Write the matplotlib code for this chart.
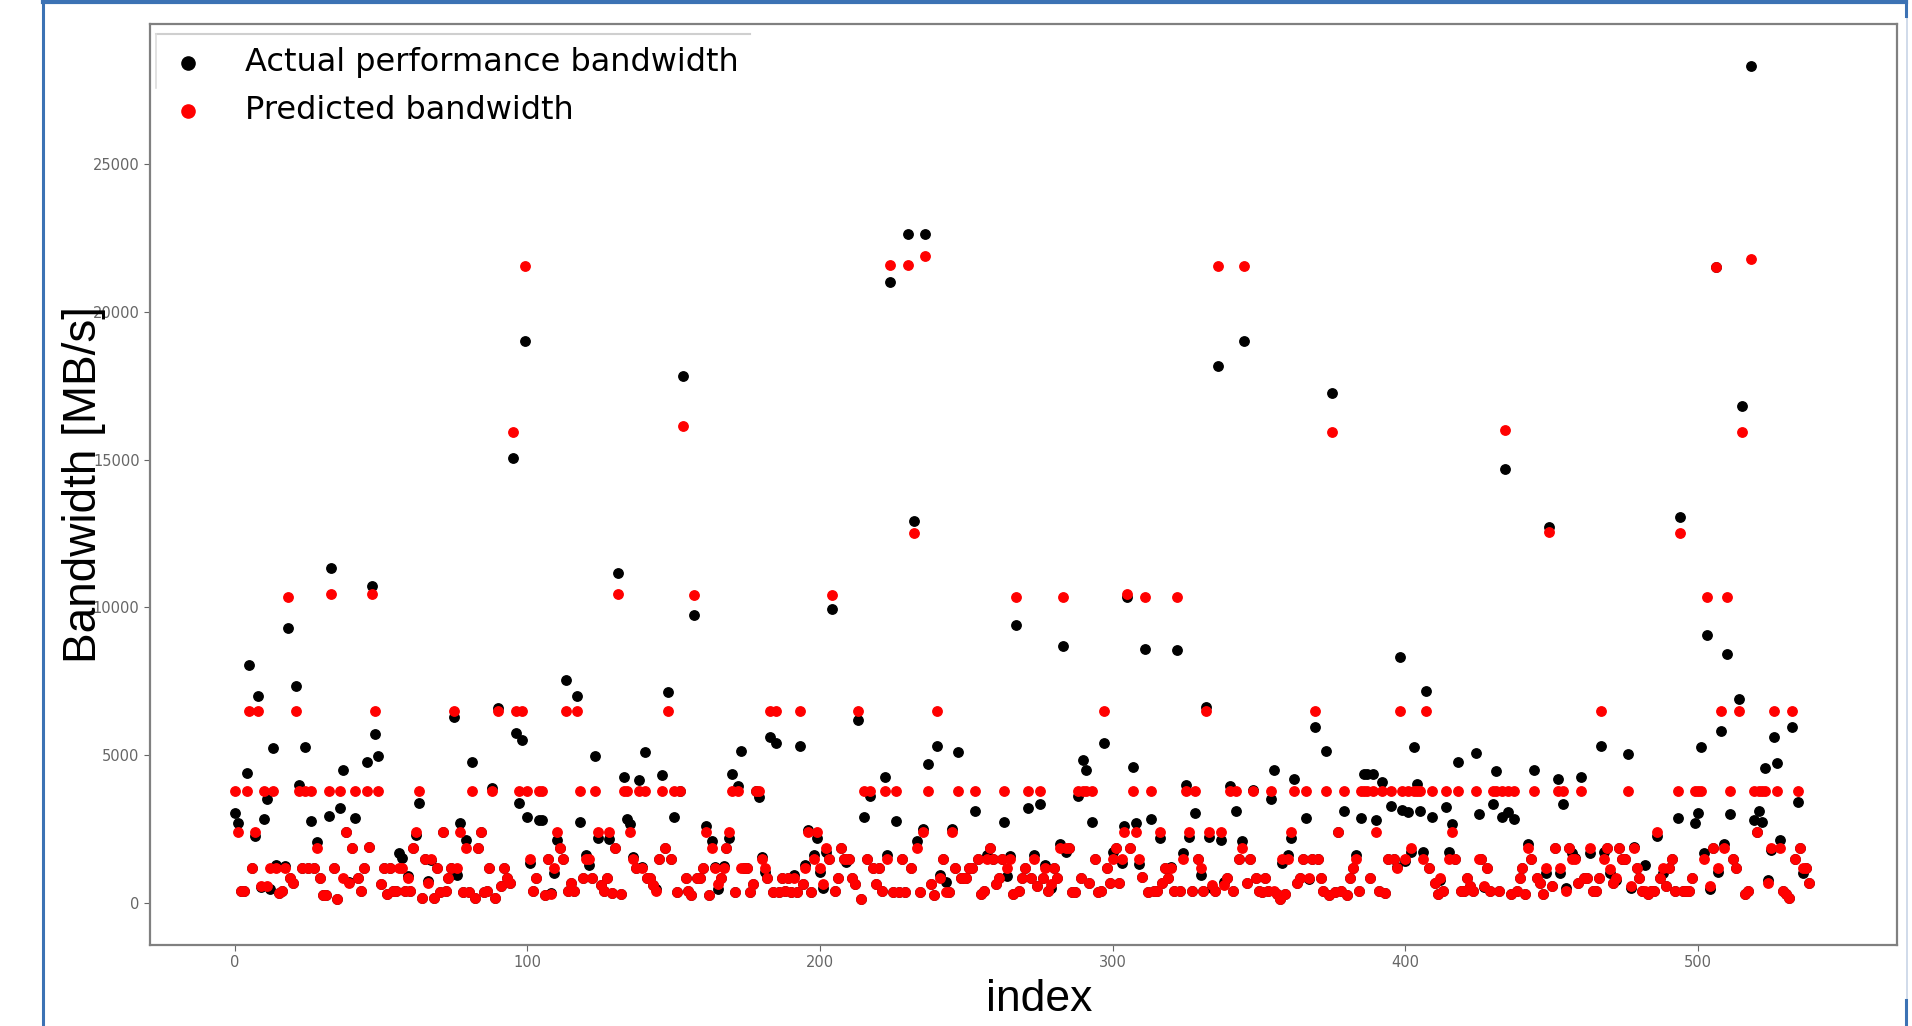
import numpy as np
import matplotlib
matplotlib.use("Agg")
import matplotlib.pyplot as plt
from matplotlib.lines import Line2D

# Datos (indice 0..538)
predicted = [
    3800, 2400, 420, 420, 3800, 6500, 1180, 2400, 6500, 590,        # 0
    3800, 590, 1200, 3800, 1180, 350, 400, 1180, 10340, 830,        # 10
    670, 6500, 3800, 1180, 3800, 1180, 3800, 1180, 1870, 860,       # 20
    270, 270, 3800, 10460, 1180, 120, 3800, 860, 2400, 670,         # 30
    1870, 3800, 860, 420, 1180, 3800, 1900, 10460, 6500, 3800,      # 40
    630, 1180, 300, 1180, 420, 420, 1180, 1180, 420, 830,           # 50
    420, 1870, 2400, 3800, 160, 1490, 670, 1480, 160, 1180,         # 60
    380, 2400, 420, 830, 1180, 6500, 1180, 2400, 380, 1870,         # 70
    380, 3800, 160, 1870, 2400, 380, 420, 1180, 3800, 160,          # 80
    6500, 590, 1180, 830, 670, 15950, 6500, 3800, 6500, 21560,      # 90
    3800, 1480, 420, 830, 3800, 3800, 270, 1480, 300, 1180,         # 100
    2400, 1870, 1480, 6500, 420, 670, 420, 6500, 3800, 830,         # 110
    1480, 1480, 830, 3800, 2400, 610, 420, 830, 2400, 330,          # 120
    1870, 10460, 300, 3800, 3800, 2400, 1480, 1180, 3800, 1180,     # 130
    3800, 830, 830, 610, 420, 1480, 3800, 1870, 6500, 1480,         # 140
    3800, 380, 3800, 16150, 860, 420, 270, 10420, 860, 860,         # 150
    1180, 2400, 270, 1870, 1180, 630, 860, 1180, 1870, 2400,        # 160
    3800, 380, 3800, 1180, 1180, 1180, 380, 630, 3800, 3800,        # 170
    1480, 1180, 860, 6500, 380, 6500, 380, 860, 420, 860,           # 180
    380, 860, 380, 6500, 630, 1180, 2400, 380, 1480, 2400,          # 190
    1180, 630, 1870, 1480, 10420, 420, 860, 1870, 1480, 1480,       # 200
    1480, 860, 630, 6500, 120, 3800, 1480, 3800, 1180, 630,         # 210
    1180, 420, 3800, 1480, 21600, 380, 3800, 380, 1480, 380,        # 220
    21600, 1180, 12520, 1870, 380, 2400, 21890, 3800, 630, 270,     # 230
    6500, 860, 1480, 380, 380, 2400, 1180, 3800, 860, 860,          # 240
    860, 1180, 1180, 3800, 1480, 300, 420, 1480, 1870, 1480,        # 250
    630, 860, 1480, 3800, 1180, 1480, 300, 10340, 420, 860,         # 260
    1180, 3800, 860, 1480, 590, 3800, 860, 1180, 420, 630,          # 270
    1180, 860, 1870, 10340, 1870, 1870, 380, 380, 3800, 860,        # 280
    3800, 3800, 670, 3800, 1480, 380, 420, 6500, 1180, 670,         # 290
    1480, 1870, 670, 1480, 2400, 10460, 1870, 3800, 2400, 1480,     # 300
    890, 10340, 380, 3800, 420, 420, 2400, 670, 1180, 860,          # 310
    1180, 420, 10340, 420, 1480, 3800, 2400, 420, 3800, 1480,       # 320
    1180, 420, 6500, 2400, 610, 420, 21560, 2400, 610, 860,         # 330
    3800, 420, 3800, 1480, 1870, 21560, 670, 1480, 3800, 860,       # 340
    420, 380, 860, 420, 3800, 420, 300, 120, 1480, 300,             # 350
    1480, 2400, 3800, 670, 860, 1480, 3800, 860, 1480, 6500,        # 360
    1480, 860, 420, 3800, 270, 15950, 380, 2400, 420, 3800,         # 370
    270, 860, 1180, 1480, 420, 3800, 3800, 3800, 860, 3800,         # 380
    2400, 420, 3800, 350, 1480, 3800, 1480, 1180, 6500, 3800,       # 390
    1480, 3800, 1870, 3800, 3800, 3800, 1480, 6500, 1180, 3800,     # 400
    670, 300, 860, 420, 3800, 1480, 2400, 1480, 3800, 420,          # 410
    420, 860, 590, 420, 3800, 1480, 1480, 590, 1180, 420,           # 420
    3800, 3800, 420, 3800, 15990, 3800, 300, 3800, 420, 860,        # 430
    1180, 300, 1870, 1480, 3800, 860, 670, 300, 1180, 12560,        # 440
    590, 1870, 3800, 1180, 3800, 420, 1870, 1480, 1480, 670,        # 450
    3800, 860, 830, 1870, 420, 420, 860, 6500, 1480, 1870,          # 460
    1140, 670, 860, 1870, 1480, 1480, 3800, 590, 1870, 1180,        # 470
    860, 420, 420, 300, 420, 420, 2400, 860, 1180, 590,             # 480
    1180, 1480, 420, 3800, 12520, 420, 420, 420, 860, 3800,         # 490
    3800, 3800, 1480, 10340, 590, 1870, 21510, 1180, 6500, 1870,    # 500
    10340, 3800, 1480, 1180, 6500, 15950, 300, 420, 21800, 3800,    # 510
    2400, 3800, 3800, 3800, 670, 1870, 6500, 3800, 1870, 420,       # 520
    300, 160, 6500, 1480, 3800, 1870, 1180, 1180, 670,              # 530
]

actual = [
    3060, 2700, 420, 420, 4390, 8070, 1180, 2270, 7000, 550,        # 0
    2830, 3510, 460, 5230, 1290, 350, 400, 1260, 9300, 830,         # 10
    670, 7340, 4010, 1180, 5290, 1180, 2770, 1180, 2080, 860,       # 20
    270, 270, 2950, 11330, 1180, 120, 3200, 4500, 2400, 720,        # 30
    1870, 2890, 860, 420, 1180, 4780, 1900, 10710, 5710, 4980,      # 40
    630, 1180, 300, 1180, 420, 420, 1700, 1510, 420, 910,           # 50
    420, 1870, 2300, 3370, 160, 1490, 740, 1450, 160, 1180,         # 60
    380, 2400, 420, 830, 1180, 6300, 950, 2700, 380, 2130,          # 70
    380, 4780, 160, 1870, 2400, 380, 420, 1180, 3900, 160,          # 80
    6590, 590, 1180, 830, 670, 15040, 5740, 3370, 5510, 19000,      # 90
    2900, 1340, 420, 830, 2810, 2810, 270, 1480, 330, 1030,         # 100
    2130, 1870, 1480, 7540, 420, 670, 420, 7000, 2750, 830,         # 110
    1620, 1290, 830, 4980, 2190, 610, 420, 830, 2150, 330,          # 120
    1870, 11160, 300, 4250, 2830, 2670, 1570, 1180, 4160, 1230,     # 130
    5100, 830, 830, 610, 460, 1480, 4330, 1870, 7150, 1480,         # 140
    2920, 380, 3800, 17840, 860, 420, 270, 9760, 860, 860,          # 150
    1180, 2620, 270, 2110, 1230, 460, 860, 1250, 1870, 2190,        # 160
    4350, 380, 3970, 5140, 1180, 1180, 380, 630, 3800, 3600,        # 170
    1550, 1060, 860, 5610, 380, 5420, 380, 860, 420, 860,           # 180
    380, 950, 380, 5310, 630, 1290, 2470, 380, 1620, 2190,          # 190
    1060, 500, 1740, 1480, 9960, 420, 860, 1870, 1480, 1400,        # 200
    1480, 860, 630, 6190, 120, 2920, 1480, 3620, 1180, 630,         # 210
    1180, 420, 4250, 1620, 21020, 380, 2770, 380, 1480, 380,        # 220
    22630, 1180, 12930, 2110, 380, 2500, 22630, 4700, 630, 270,     # 230
    5310, 950, 1480, 720, 380, 2500, 1180, 5100, 860, 860,          # 240
    860, 1180, 1180, 3110, 1480, 300, 420, 1620, 1870, 1480,        # 250
    630, 860, 1480, 2750, 910, 1590, 300, 9390, 420, 860,           # 260
    1180, 3230, 860, 1620, 590, 3340, 860, 1290, 420, 500,          # 270
    1180, 860, 2000, 8690, 1740, 1870, 380, 380, 3630, 860,         # 280
    4840, 4500, 670, 2750, 1480, 380, 420, 5420, 1180, 670,         # 290
    1710, 1870, 670, 1340, 2620, 10340, 1870, 4610, 2700, 1320,     # 300
    890, 8600, 380, 2830, 420, 420, 2190, 670, 1180, 860,           # 310
    1230, 420, 8560, 420, 1680, 4010, 2220, 420, 3060, 1480,        # 320
    950, 420, 6620, 2240, 500, 420, 18170, 2130, 720, 860,          # 330
    3970, 420, 3120, 1480, 2100, 19000, 670, 1480, 3820, 860,       # 340
    420, 380, 860, 420, 3510, 4500, 300, 120, 1340, 300,            # 350
    1620, 2190, 4200, 670, 860, 1480, 2890, 800, 1480, 5940,        # 360
    1480, 860, 420, 5140, 270, 17270, 380, 2400, 420, 3110,         # 370
    270, 860, 1180, 1620, 420, 2890, 4350, 4360, 860, 4360,         # 380
    2810, 420, 4100, 350, 1480, 3280, 1480, 1230, 8310, 3150,       # 390
    1430, 3090, 1710, 5270, 4030, 3120, 1710, 7180, 1180, 2920,     # 400
    670, 300, 780, 420, 3240, 1710, 2670, 1480, 4780, 420,          # 410
    420, 860, 590, 420, 5060, 3010, 1480, 550, 1180, 420,           # 420
    3350, 4480, 420, 2920, 14670, 3070, 300, 2830, 420, 860,        # 430
    1180, 300, 2000, 1480, 4500, 860, 670, 300, 1000, 12730,        # 440
    590, 1870, 4180, 1000, 3350, 500, 1870, 1680, 1510, 670,        # 450
    4270, 860, 830, 1680, 420, 420, 860, 5310, 1740, 1870,          # 460
    1000, 670, 780, 1870, 1480, 1480, 5030, 500, 1910, 1180,        # 470
    860, 420, 1290, 300, 420, 420, 2270, 860, 1000, 590,            # 480
    1180, 1480, 420, 2890, 13060, 420, 420, 420, 860, 2720,         # 490
    3060, 5270, 1680, 9060, 460, 1870, 21510, 1060, 5830, 1990,     # 500
    8440, 3000, 1480, 1180, 6900, 16810, 300, 420, 28320, 2810,     # 510
    2400, 3120, 2730, 4560, 780, 1790, 5630, 4750, 2130, 420,       # 520
    300, 160, 5940, 1480, 3410, 1870, 1000, 1180, 670,              # 530
]

xticks = [0, 100, 200, 300, 400, 500]
yticks = [0, 5000, 10000, 15000, 20000, 25000]

W, H = 1912, 1026
fig = plt.figure(figsize=(W / 100, H / 100), dpi=100)
ax = fig.add_axes([150 / W, 81 / H, 1747 / W, 921 / H])

ax.scatter(np.arange(len(actual)), actual, s=46, c="black",
           label="Actual performance bandwidth", zorder=2)
ax.scatter(np.arange(len(predicted)), predicted, s=46, c="red",
           label="Predicted bandwidth", zorder=3)

ax.set_xlim(-29, 568)
ax.set_ylim(-1420, 29740)
ax.set_xticks(xticks)
ax.set_yticks(yticks)
ax.tick_params(labelsize=10.5, colors="#666666", length=4)
for s in ax.spines.values():
    s.set_color("#808080")
    s.set_linewidth(1.6)

ax.set_xlabel("index", fontsize=32, family=["Liberation Sans", "DejaVu Sans"])
ax.xaxis.set_label_coords(0.509, -0.037)
ax.set_ylabel("Bandwidth [MB/s]", fontsize=33, family=["Liberation Sans", "DejaVu Sans"])
ax.yaxis.set_label_coords(-0.038, 0.5)
ax.yaxis.label.set_verticalalignment("center")

leg = ax.legend(loc="upper left", bbox_to_anchor=(0.0034, 0.989), borderaxespad=0,
                fontsize=23, handlelength=1.2, handletextpad=1.2, labelspacing=0.55,
                markerscale=1.4, frameon=True, fancybox=False)
leg.get_frame().set_edgecolor("none")

# bordes parciales del recuadro de la leyenda
fig.add_artist(Line2D([156 / W, 750 / W], [1 - 34 / H, 1 - 34 / H],
                      transform=fig.transFigure, color="#cfcfcf", lw=1.5))
fig.add_artist(Line2D([156 / W, 156 / W], [1 - 34 / H, 1 - 88 / H],
                      transform=fig.transFigure, color="#dddddd", lw=1.2))

# marco azul de la captura
blue = "#3c72b4"
fig.add_artist(Line2D([43 / W, 43 / W], [0, 1], transform=fig.transFigure, color=blue, lw=2.2))
fig.add_artist(Line2D([43 / W, 1906 / W], [1 - 1.5 / H, 1 - 1.5 / H],
                      transform=fig.transFigure, color=blue, lw=3))
fig.add_artist(Line2D([1907 / W, 1907 / W], [0, 1], transform=fig.transFigure,
                      color="#c8d4e6", lw=1.2))
fig.add_artist(Line2D([1906 / W, 1906 / W], [1 - 16 / H, 1], transform=fig.transFigure,
                      color=blue, lw=2.2))
fig.add_artist(Line2D([1906 / W, 1906 / W], [0, 26 / H], transform=fig.transFigure,
                      color=blue, lw=2.2))

fig.savefig("out.png", dpi=100)
